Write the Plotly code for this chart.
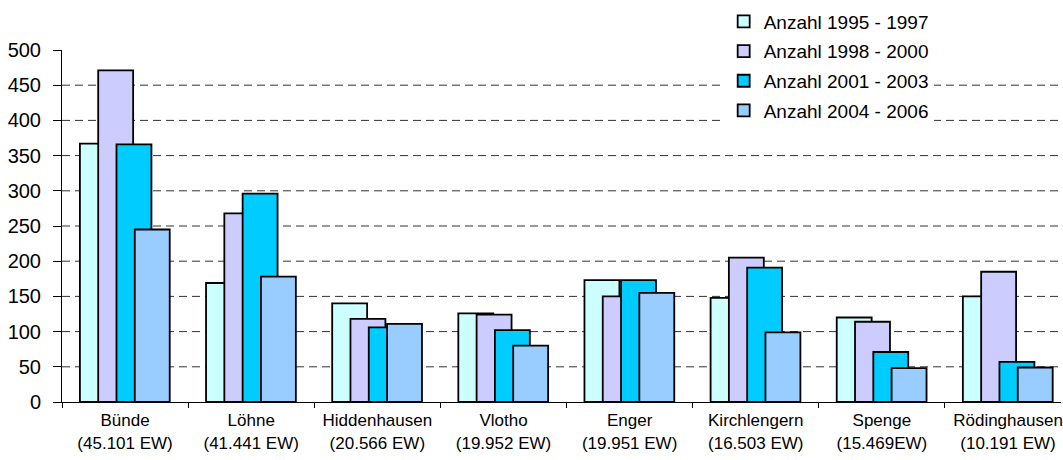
import plotly.graph_objects as go

categories = ["Bünde<br>(45.101 EW)", "Löhne<br>(41.441 EW)", "Hiddenhausen<br>(20.566 EW)",
              "Vlotho<br>(19.952 EW)", "Enger<br>(19.951 EW)", "Kirchlengern<br>(16.503 EW)",
              "Spenge<br>(15.469EW)", "Rödinghausen<br>(10.191 EW)"]
series_names = ["Anzahl 1995 - 1997", "Anzahl 1998 - 2000", "Anzahl 2001 - 2003", "Anzahl 2004 - 2006"]
v_1995_1997 = [367, 169, 140, 126, 173, 148, 120, 150]
v_1998_2000 = [471, 268, 118, 124, 150, 205, 114, 185]
v_2001_2003 = [366, 296, 106, 102, 173, 191, 71, 57]
v_2004_2006 = [245, 178, 111, 80, 155, 99, 48, 49]
y_ticks = [0, 50, 100, 150, 200, 250, 300, 350, 400, 450, 500]

series_values = [v_1995_1997, v_1998_2000, v_2001_2003, v_2004_2006]
colors = ["#CCFFFF", "#CCCCFF", "#00CCFF", "#99CCFF"]

fig = go.Figure()
bar_w = 0.277
step = 0.145
start = -0.358
for i, (name, vals) in enumerate(zip(series_names, series_values)):
    fig.add_trace(go.Bar(
        x=categories, y=vals, name=name, legendgroup=f"g{i}",
        marker=dict(color=colors[i], line=dict(color="black", width=1.8)),
        width=bar_w, offset=start + i * step,
    ))

shapes = []
for t in y_ticks[1:-1]:
    shapes.append(dict(type="line", xref="paper", yref="y", x0=0, x1=1, y0=t, y1=t,
                       line=dict(color="#333333", width=1, dash="8px,5px"), layer="below"))

fig.update_layout(
    width=1063, height=460,
    barmode="overlay",
    plot_bgcolor="white", paper_bgcolor="white",
    margin=dict(l=62, r=0, t=50, b=58),
    font=dict(family="Liberation Sans, Arial, sans-serif", color="black"),
    shapes=shapes,
    showlegend=True,
    legend=dict(x=(725 - 62) / (1063 - 62), xanchor="left", y=1.135, yanchor="top", yref="paper",
                bgcolor="white", font=dict(size=19), traceorder="grouped",
                tracegroupgap=2, borderwidth=0),
    xaxis=dict(type="category", range=[-0.5, 7.42], tickson="boundaries",
               ticks="outside", ticklen=5, tickcolor="black", showline=True,
               linecolor="black", linewidth=1, showgrid=False,
               tickfont=dict(size=17), ticklabelstandoff=3),
    yaxis=dict(range=[0, 500], tickvals=y_ticks, ticks="outside", ticklen=8,
               tickcolor="black", showline=True, linecolor="black", linewidth=1,
               showgrid=False, zeroline=False, tickfont=dict(size=20),
               ticklabelstandoff=8),
)

fig.write_html("out.html", config={"displayModeBar": False},
               post_script="document.body.style.margin='0';document.body.style.overflow='hidden';")
